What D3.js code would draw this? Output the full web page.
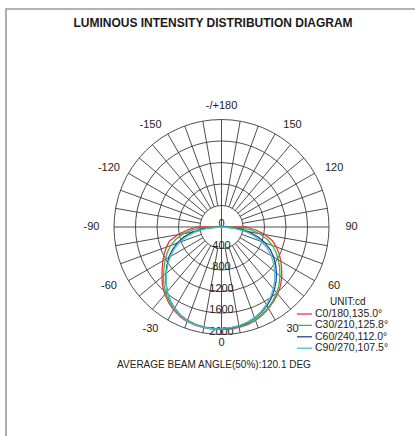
<!DOCTYPE html>
<html>
<head>
<meta charset="utf-8">
<script src="https://cdn.jsdelivr.net/npm/d3@7"></script>
<style>
  html, body { margin: 0; padding: 0; background: #fff; }
  svg { display: block; font-family: "Liberation Sans", Arial, sans-serif; }
</style>
</head>
<body>
<svg id="chart" width="415" height="436"></svg>
<script>
// gamma angles (deg) for every intensity value below
const gammas = [0, 5, 10, 15, 20, 25, 30, 35, 40, 45, 50, 55, 60, 65, 70, 75, 80, 85, 90];

// intensities in cd, right half (C0, C30, C60, C90) and left half (C180 ... C270)
const c0   = [1905, 1905, 1895, 1880, 1850, 1805, 1750, 1690, 1625, 1550, 1465, 1365, 1275, 1185, 1085, 980, 825, 640, 460];
const c180 = [1905, 1905, 1900, 1890, 1870, 1835, 1780, 1715, 1640, 1550, 1445, 1348, 1260, 1175, 1090, 1000, 825, 635, 465];
const c30  = [1895, 1895, 1885, 1868, 1838, 1792, 1735, 1670, 1600, 1515, 1420, 1320, 1220, 1120, 1010, 880, 720, 520, 150];
const c210 = [1895, 1895, 1890, 1878, 1855, 1815, 1760, 1690, 1610, 1515, 1410, 1305, 1210, 1110, 1005, 880, 720, 520, 150];
const c60  = [1890, 1885, 1870, 1845, 1805, 1755, 1690, 1615, 1530, 1435, 1335, 1230, 1120, 1000, 860, 700, 520, 300, 60];
const c240 = [1895, 1895, 1890, 1875, 1850, 1805, 1745, 1665, 1570, 1465, 1350, 1240, 1130, 1010, 880, 730, 550, 330, 60];
const c90  = [1885, 1880, 1865, 1835, 1795, 1740, 1670, 1590, 1500, 1400, 1295, 1185, 1070, 940, 790, 620, 430, 220, 0];
const c270 = [1900, 1900, 1895, 1880, 1855, 1810, 1750, 1668, 1570, 1460, 1340, 1220, 1100, 970, 830, 660, 470, 250, 0];

const seriesNames = ["C0/180,135.0°", "C30/210,125.8°", "C60/240,112.0°", "C90/270,107.5°"];
const seriesColors = ["#e8373a", "#34b84c", "#2d3ea6", "#45c8c2"];

const rings = [400, 800, 1200, 1600, 2000];
const angleTicks = [0, 30, 60, 90, 120, 150, 180, -150, -120, -90, -60, -30];

const svg = d3.select("#chart");
const W = 415, H = 436;
const cx = 221.5, cy = 227;

// frame lines (top + left)
svg.append("path")
  .attr("d", `M6,${H} L6,9 L${W},9`)
  .attr("fill", "none")
  .attr("stroke", "#9a9a9a")
  .attr("stroke-width", 1.6);

svg.append("text")
  .attr("x", 213)
  .attr("y", 27)
  .attr("text-anchor", "middle")
  .attr("font-size", 12)
  .attr("font-weight", "bold")
  .attr("fill", "#1a1a1a")
  .text("LUMINOUS INTENSITY DISTRIBUTION DIAGRAM");

const r = d3.scaleLinear().domain([0, 2000]).range([0, 107.5]);
const rad = d => d * Math.PI / 180;

const g = svg.append("g").attr("transform", `translate(${cx},${cy})`);

// rings
g.selectAll("circle.ring")
  .data(rings)
  .join("circle")
  .attr("class", "ring")
  .attr("r", d => r(d))
  .attr("fill", "none")
  .attr("stroke", "#3a3a3a")
  .attr("stroke-width", 0.9);

// spokes every 10 deg, from the 400 ring out
const spokes = d3.range(0, 360, 10).filter(a => a % 90 !== 0);
g.selectAll("line.spoke")
  .data(spokes)
  .join("line")
  .attr("x1", a => r(rings[0]) * Math.sin(rad(a)))
  .attr("y1", a => r(rings[0]) * Math.cos(rad(a)))
  .attr("x2", a => r(2000) * Math.sin(rad(a)))
  .attr("y2", a => r(2000) * Math.cos(rad(a)))
  .attr("stroke", "#3a3a3a")
  .attr("stroke-width", 0.9);

// main axes through the centre
g.append("line")
  .attr("x1", -r(2000)).attr("x2", r(2000))
  .attr("stroke", "#3a3a3a").attr("stroke-width", 0.9);
g.append("line")
  .attr("y1", -r(2000)).attr("y2", r(2000))
  .attr("stroke", "#3a3a3a").attr("stroke-width", 0.9);

// ring labels
g.selectAll("text.ringlab")
  .data([0, ...rings])
  .join("text")
  .attr("class", "ringlab")
  .attr("x", 0)
  .attr("y", d => r(d) - 2.5)
  .attr("text-anchor", "middle")
  .attr("dominant-baseline", "middle")
  .attr("font-size", 11)
  .attr("fill", "#222")
  .text(d => d);

// angle labels
g.selectAll("text.anglab")
  .data(angleTicks)
  .join("text")
  .attr("class", "anglab")
  .attr("x", a => {
    let x = 130 * Math.sin(rad(a));
    if (Math.abs(a) === 30 || Math.abs(a) === 150) x += Math.sign(a) * 6;
    return x;
  })
  .attr("y", a => (a === 0 ? 116 : a === 180 ? -121 : 118 * Math.cos(rad(a))))
  .attr("text-anchor", "middle")
  .attr("dominant-baseline", "middle")
  .attr("font-size", 11)
  .attr("fill", "#222")
  .text(a => (a === 180 ? "-/+180" : a));

// intensity curves
const pairs = [[c0, c180], [c30, c210], [c60, c240], [c90, c270]];

const line = d3.lineRadial()
  .angle(d => d[0])
  .radius(d => r(d[1]));

pairs.forEach(([right, left], i) => {
  const pts = [[0, 0]];
  for (let k = gammas.length - 1; k >= 0; k--) pts.push([Math.PI + rad(gammas[k]), left[k]]);
  for (let k = 0; k < gammas.length; k++) pts.push([Math.PI - rad(gammas[k]), right[k]]);
  pts.push([0, 0]);

  g.append("path")
    .datum(pts)
    .attr("d", line)
    .attr("fill", "none")
    .attr("stroke", seriesColors[i])
    .attr("stroke-width", 1.3)
    .attr("stroke-linejoin", "round");
});

// legend
svg.append("text")
  .attr("x", 330)
  .attr("y", 302)
  .attr("dominant-baseline", "middle")
  .attr("font-size", 10)
  .attr("fill", "#222")
  .text("UNIT:cd");

const leg = svg.append("g");
seriesNames.forEach((name, i) => {
  const y = 314 + i * 11.4;
  leg.append("line")
    .attr("x1", 297).attr("x2", 312)
    .attr("y1", y).attr("y2", y)
    .attr("stroke", seriesColors[i])
    .attr("stroke-width", 1.3);
  leg.append("text")
    .attr("x", 315)
    .attr("y", y)
    .attr("dominant-baseline", "middle")
    .attr("font-size", 10.5)
    .attr("fill", "#222")
    .text(name);
});

svg.append("text")
  .attr("x", 214)
  .attr("y", 365)
  .attr("text-anchor", "middle")
  .attr("dominant-baseline", "middle")
  .attr("font-size", 10)
  .attr("fill", "#222")
  .text("AVERAGE BEAM ANGLE(50%):120.1 DEG");
</script>
</body>
</html>
